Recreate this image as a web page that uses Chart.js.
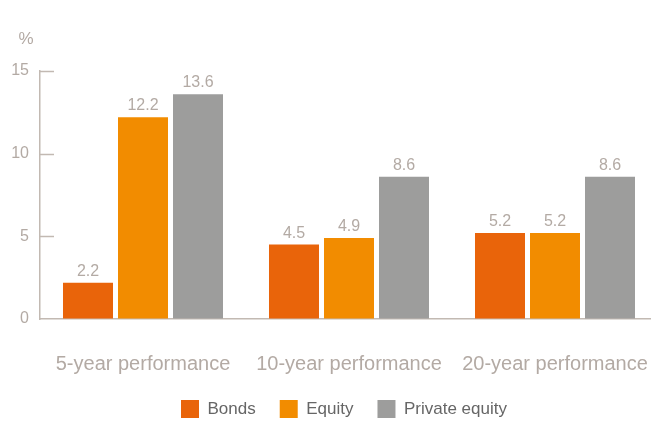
<!DOCTYPE html>
<html>
<head>
<meta charset="utf-8">
<script src="https://cdn.jsdelivr.net/npm/chart.js@4.4.0/dist/chart.umd.min.js"></script>
<style>
  html, body { margin: 0; padding: 0; background: #fff; overflow: hidden; }
  #wrap { width: 658px; height: 429px; }
</style>
</head>
<body>
<div id="wrap"><canvas id="chart" width="658" height="429"></canvas></div>
<script>
// datos del gráfico
const categories = ['5-year performance', '10-year performance', '20-year performance'];
const bonds = [2.2, 4.5, 5.2];
const equity = [12.2, 4.9, 5.2];
const privateEquity = [13.6, 8.6, 8.6];
const yTicks = [0, 5, 10, 15];

const textGray = '#b3aaa4';
const axisGray = '#c2b9b2';
const font = '"Liberation Sans", Arial, Helvetica, sans-serif';

// etiquetas de valor encima de las barras y la unidad "%"
const extras = {
    id: 'extras',
    afterLayout(chart) {
        // desplazar la leyenda un poco a la derecha, como en el original
        chart.legend.left += 15;
        chart.legend.right += 15;
        chart.legend.top -= 1;
        chart.legend.bottom -= 1;
    },
    afterDatasetsDraw(chart) {
        const ctx = chart.ctx;
        ctx.save();
        ctx.font = '16px ' + font;
        ctx.fillStyle = textGray;
        ctx.textAlign = 'center';
        ctx.textBaseline = 'alphabetic';
        chart.data.datasets.forEach((ds, i) => {
            chart.getDatasetMeta(i).data.forEach((bar, j) => {
                ctx.fillText(ds.data[j].toFixed(1), bar.x, bar.y - 7);
            });
        });
        // marcas del eje y hacia dentro
        const y = chart.scales.y;
        ctx.strokeStyle = axisGray;
        ctx.lineWidth = 1.5;
        yTicks.forEach(v => {
            if (v === 0) return;
            const py = Math.round(y.getPixelForValue(v)) + 0.5;
            ctx.beginPath();
            ctx.moveTo(chart.chartArea.left, py);
            ctx.lineTo(chart.chartArea.left + 14, py);
            ctx.stroke();
        });
        ctx.font = '17px ' + font;
        ctx.textAlign = 'center';
        ctx.textBaseline = 'middle';
        ctx.fillText('%', 26, 39);
        ctx.restore();
    }
};

new Chart(document.getElementById('chart').getContext('2d'), {
    type: 'bar',
    data: {
        labels: categories,
        datasets: [
            { label: 'Bonds', data: bonds, backgroundColor: '#e9640a' },
            { label: 'Equity', data: equity, backgroundColor: '#f28c00' },
            { label: 'Private equity', data: privateEquity, backgroundColor: '#9d9d9c' }
        ]
    },
    options: {
        responsive: false,
        animation: false,
        devicePixelRatio: 1,
        categoryPercentage: 0.801,
        barPercentage: 0.909,
        layout: { padding: { top: 71, left: 0, right: 0, bottom: 0 } },
        plugins: {
            tooltip: { enabled: false },
            legend: {
                position: 'bottom',
                labels: {
                    boxWidth: 18,
                    boxHeight: 18,
                    padding: 24,
                    color: '#666666',
                    font: { family: font, size: 17 }
                }
            }
        },
        scales: {
            x: {
                grid: { display: false, drawTicks: false },
                border: { display: true, color: axisGray, width: 1.5 },
                ticks: {
                    color: textGray,
                    padding: 33,
                    maxRotation: 0,
                    font: { family: font, size: 20 }
                },
                afterFit(scale) {
                    scale.height = 58;
                    scale.paddingLeft = 0;
                    scale.paddingRight = 0;
                }
            },
            y: {
                min: 0,
                max: 15,
                afterBuildTicks(scale) { scale.ticks = yTicks.map(v => ({ value: v })); },
                grid: { drawOnChartArea: false, drawTicks: false },
                border: { display: true, color: axisGray, width: 1.5 },
                ticks: {
                    color: textGray,
                    padding: 11,
                    font: { family: font, size: 16 }
                },
                afterFit(scale) { scale.width = 40; }
            }
        }
    },
    plugins: [extras]
});
</script>
</body>
</html>
